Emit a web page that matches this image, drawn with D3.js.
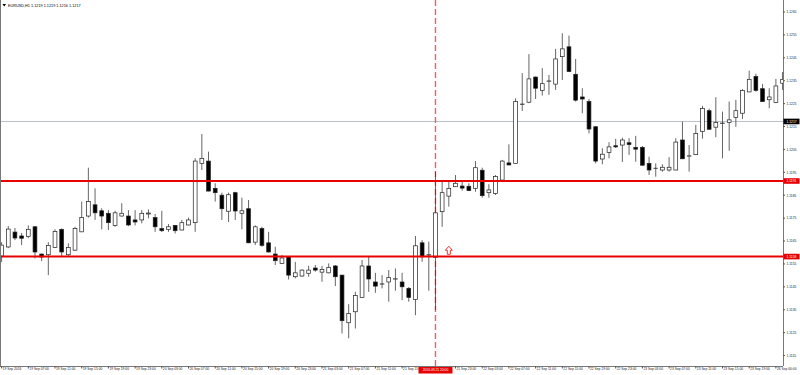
<!DOCTYPE html>
<html><head><meta charset="utf-8">
<script src="https://cdn.jsdelivr.net/npm/d3@7"></script>
<style>
body{margin:0;background:#fff}
svg{display:block}
text{font-family:"Liberation Sans",Arial,sans-serif}
</style>
</head><body>
<svg id="c" width="800" height="375"></svg>
<script>
// ---------------- data ----------------
const symbol = "EURUSD,H1";
const lastQuote = ["1.1219", "1.1219", "1.1216", "1.1217"];

const open = [1.11582,1.11622,1.11687,1.1167,1.11667,1.1171,1.11591,1.11588,1.1162,1.11699,
1.11588,1.11608,1.11688,1.11757,1.11806,1.1178,1.11769,1.11716,1.11757,1.11757,
1.1174,1.1174,1.11766,1.1175,1.11702,1.11699,1.11716,1.11696,1.11718,1.11728,
1.11987,1.11997,1.11878,1.11848,1.11778,1.11859,1.11769,1.11789,1.11643,1.11702,
1.1164,1.11591,1.1155,1.11579,1.11492,1.11495,1.11507,1.1153,1.11512,1.11509,
1.11539,1.11499,1.11291,1.11339,1.11402,1.11539,1.11469,1.1146,1.11469,1.11483,
1.11469,1.11441,1.11393,1.1164,1.11587,1.11577,1.11776,1.11844,1.11885,1.11888,
1.11887,1.11878,1.11957,1.11859,1.11856,1.11914,1.11989,1.11987,1.12245,1.12254,
1.12364,1.12306,1.12347,1.12333,1.12453,1.12496,1.12376,1.12277,1.12257,1.12147,
1.12006,1.12035,1.12064,1.12067,1.12077,1.12057,1.12057,1.11987,1.11965,1.11958,
1.11958,1.11958,1.12089,1.12019,1.12025,1.12127,1.12217,1.12145,1.12162,1.12165,
1.12188,1.12206,1.12299,1.12366,1.12313,1.12265,1.12253,1.12337];

const high = [1.11643,1.11713,1.11705,1.11683,1.11716,1.11713,1.11593,1.11643,1.11699,1.11703,
1.11638,1.1171,1.1182,1.11968,1.11878,1.11791,1.11783,1.1178,1.11813,1.11783,
1.11783,1.11783,1.11786,1.11766,1.1178,1.11722,1.11718,1.1174,1.1175,1.12009,
1.12115,1.12038,1.119,1.11859,1.11859,1.11863,1.11837,1.11827,1.11716,1.1171,
1.11688,1.11623,1.11587,1.1158,1.11557,1.11524,1.1154,1.11543,1.11539,1.1155,
1.11543,1.115,1.11372,1.11426,1.11565,1.11579,1.11509,1.11499,1.11521,1.11528,
1.11509,1.11447,1.1167,1.11652,1.11645,1.11951,1.11907,1.11911,1.11936,1.11911,
1.119,1.11997,1.11968,1.11896,1.11936,1.12002,1.1207,1.12271,1.12381,1.12464,
1.12366,1.12403,1.12373,1.12487,1.12555,1.12545,1.12443,1.12315,1.12268,1.12149,
1.12053,1.12079,1.12094,1.12099,1.12097,1.12107,1.12063,1.12016,1.11987,1.11983,
1.12014,1.12097,1.12169,1.12067,1.12155,1.12238,1.12226,1.12276,1.12213,1.12257,
1.12264,1.12311,1.12392,1.12378,1.12334,1.12315,1.12356,1.12386];

const low = [1.11556,1.11617,1.11652,1.1163,1.1166,1.11572,1.1156,1.11499,1.11619,1.11579,
1.11579,1.11606,1.11687,1.1175,1.1174,1.11699,1.11696,1.1171,1.11755,1.11713,
1.11716,1.11725,1.11747,1.11688,1.11687,1.11688,1.11681,1.11695,1.11716,1.11688,
1.11958,1.11865,1.1182,1.1174,1.11731,1.1174,1.11699,1.11639,1.1163,1.11623,
1.11598,1.11543,1.11549,1.1148,1.11485,1.11492,1.11492,1.11514,1.1147,1.11507,
1.11451,1.11244,1.11223,1.11266,1.11401,1.11426,1.11422,1.11441,1.11383,1.11431,
1.1139,1.11383,1.11324,1.11557,1.11431,1.11346,1.1171,1.11798,1.11884,1.11868,
1.11866,1.11863,1.11837,1.11837,1.11849,1.11913,1.11979,1.11986,1.12216,1.1225,
1.12268,1.12283,1.12286,1.12308,1.12351,1.12386,1.12257,1.12206,1.12118,1.11987,
1.11983,1.12009,1.12054,1.11993,1.12024,1.11994,1.11976,1.11936,1.11929,1.11951,
1.11951,1.11957,1.12006,1.11951,1.12024,1.12095,1.12133,1.12101,1.12009,1.12042,
1.12147,1.12181,1.12298,1.123,1.12255,1.12228,1.1225,1.12308];

const close = [1.1163,1.117,1.11661,1.1166,1.11699,1.116,1.11578,1.11629,1.1169,1.116,
1.1162,1.11702,1.1175,1.1182,1.11771,1.11757,1.11728,1.11771,1.11769,1.11718,
1.11731,1.11769,1.1177,1.1171,1.11693,1.1171,1.11693,1.11728,1.1174,1.11997,
1.12009,1.11866,1.11859,1.11789,1.1185,1.11779,1.1178,1.1164,1.1171,1.11629,
1.116,1.11562,1.11574,1.11499,1.11509,1.11521,1.11521,1.11521,1.11524,1.11533,
1.11492,1.113,1.11332,1.1141,1.11539,1.11482,1.11451,1.11461,1.11489,1.11483,
1.11448,1.11402,1.11627,1.11579,1.11588,1.11771,1.11859,1.11878,1.119,1.11879,
1.11868,1.11968,1.11846,1.11871,1.11929,1.11997,1.1198,1.12257,1.12246,1.12356,
1.12315,1.12335,1.12347,1.12443,1.12487,1.12388,1.12263,1.12268,1.12137,1.11997,
1.12027,1.12059,1.12059,1.12089,1.12069,1.12049,1.11979,1.11958,1.11966,1.1197,
1.1197,1.1208,1.12007,1.1202,1.12118,1.12226,1.12136,1.12165,1.12163,1.12177,
1.12217,1.12305,1.12354,1.12306,1.12257,1.12277,1.12325,1.12354];

// hourly bar times (trading hours only)
const times = d3.timeHour.range(new Date(2016, 8, 19, 3), new Date(2016, 8, 23, 23))
  .concat([new Date(2016, 8, 26, 0), new Date(2016, 8, 26, 1)]);

const priceTicks = [1.1115,1.1125,1.1135,1.1145,1.1155,1.1165,1.1175,1.1185,1.1195,1.1205,1.1215,1.1225,1.1235,1.1245,1.1255,1.1265];
const levels = [1.1191, 1.1158];
const bidPrice = 1.1217;
const markerTime = new Date(2016, 8, 21, 20);
const markerLabel = "2016.09.21 20:00";
const arrowTime = new Date(2016, 8, 21, 22);
const arrowPrice = 1.1159;

// ---------------- layout ----------------
const plotR = 783, plotB = 366;
const svg = d3.select("#c");

const idx = d3.range(times.length);
const x = d3.scaleBand().domain(idx).range([-1.74, -1.74 + 6.675 * times.length]).padding(0);
const cx = i => x(i) + x.bandwidth() / 2;
const y = d3.scaleLinear().domain([1.1115, 1.1265]).range([355.04, 11.54]);
const timeIndex = t => times.findIndex(d => +d === +t);

svg.append("defs").append("clipPath").attr("id", "plot")
  .append("rect").attr("x", 0).attr("y", 0).attr("width", plotR).attr("height", plotB);

const g = svg.append("g").attr("clip-path", "url(#plot)");

// bid line
g.append("line").attr("x1", 0).attr("x2", plotR)
  .attr("y1", y(bidPrice)).attr("y2", y(bidPrice))
  .attr("stroke", "#b8c0c8").attr("stroke-width", 1);

// vertical dashed marker (in the background, behind the candles)
const mi = timeIndex(markerTime);
const mx = cx(mi);
g.append("line").attr("x1", mx).attr("x2", mx).attr("y1", 0).attr("y2", plotB)
  .attr("stroke", "#f06060").attr("stroke-width", 1.4).attr("stroke-dasharray", "6,3");

// candles
const bars = idx.map(i => ({i, o: open[i], h: high[i], l: low[i], c: close[i]}));
g.selectAll("line.wick").data(bars).join("line").attr("class", "wick")
  .attr("x1", d => cx(d.i)).attr("x2", d => cx(d.i))
  .attr("y1", d => y(d.h)).attr("y2", d => y(d.l))
  .attr("stroke", "#333").attr("stroke-width", 0.75);

const bw = 3.8;
g.selectAll("rect.body").data(bars).join("rect").attr("class", "body")
  .attr("x", d => cx(d.i) - bw / 2)
  .attr("width", bw)
  .attr("y", d => Math.min(y(d.o), y(d.c)))
  .attr("height", d => Math.max(0.3, Math.abs(y(d.o) - y(d.c))))
  .attr("fill", d => d.c < d.o ? "#000" : "#fff")
  .attr("stroke", "#222").attr("stroke-width", 0.7);

// horizontal levels
g.selectAll("line.level").data(levels).join("line").attr("class", "level")
  .attr("x1", 0).attr("x2", plotR)
  .attr("y1", d => y(d)).attr("y2", d => y(d))
  .attr("stroke", "#e80000").attr("stroke-width", 2);

// arrow (hollow up arrow)
const ai = timeIndex(arrowTime);
const ax = cx(ai), ay = y(arrowPrice);
g.append("path")
  .attr("d", `M${ax},${ay-8} L${ax+3.5},${ay-4} L${ax+1.5},${ay-4} L${ax+1.5},${ay} L${ax-1.5},${ay} L${ax-1.5},${ay-4} L${ax-3.5},${ay-4} Z`)
  .attr("fill", "#fff").attr("stroke", "#e82020").attr("stroke-width", 0.9);

// frame
svg.append("line").attr("x1", 0.5).attr("x2", 0.5).attr("y1", 0).attr("y2", plotB)
  .attr("stroke", "#777").attr("stroke-width", 1);

// right axis
const fmt4 = d3.format(".4f");
const ra = svg.append("g").attr("transform", `translate(${plotR},0)`)
  .call(d3.axisRight(y).tickValues(priceTicks).tickFormat(fmt4).tickSize(2).tickPadding(1.5));
ra.select(".domain").attr("d", `M0.5,0V${plotB}`).attr("stroke", "#777");
ra.selectAll(".tick line").attr("stroke", "#555");
ra.selectAll(".tick text").attr("font-size", 3.3).attr("fill", "#222").attr("dy", "0.4em");

// price boxes on right axis
const boxes = [
  {p: bidPrice, bg: "#000"},
  {p: levels[0], bg: "#e80000"},
  {p: levels[1], bg: "#e80000"}
];
const bx = svg.append("g");
boxes.forEach(b => {
  bx.append("rect").attr("x", plotR + 0.5).attr("y", y(b.p) - 2.8).attr("width", 16).attr("height", 5.6)
    .attr("fill", b.bg);
  bx.append("text").attr("x", plotR + 3.5).attr("y", y(b.p)).attr("dy", "0.36em")
    .attr("font-size", 3.3).attr("fill", "#fff").text(fmt4(b.p));
});

// bottom axis (the tick under the marker box is hidden, as in the terminal)
const fmtT = d3.timeFormat("%d %b %H:%M");
const boxL = cx(mi) - 17, boxR = cx(mi) + 17;
const tickIdx = idx.filter(i => i % 4 === 0 && !(cx(i) > boxL - 2 && cx(i) < boxR));
const ba = svg.append("g").attr("transform", `translate(0,${plotB})`)
  .call(d3.axisBottom(x).tickValues(tickIdx)
    .tickFormat(i => i === 0 ? d3.timeFormat("%d %b %Y")(times[i]) : fmtT(times[i]))
    .tickSize(2.5).tickPadding(1));
ba.select(".domain").attr("d", `M0,0.5H${plotR}`).attr("stroke", "#777");
ba.selectAll(".tick line").attr("stroke", "#555");
ba.selectAll(".tick text").attr("font-size", 3.3).attr("fill", "#222")
  .attr("text-anchor", "start").attr("x", 1).attr("y", 2).attr("dy", "0.75em");

// marker time box on bottom axis
svg.append("rect").attr("x", boxL).attr("y", plotB + 1).attr("width", boxR - boxL).attr("height", 6.5)
  .attr("fill", "#e80000");
svg.append("text").attr("x", cx(mi)).attr("y", plotB + 4.3).attr("dy", "0.36em")
  .attr("text-anchor", "middle").attr("font-size", 3.3).attr("fill", "#fff").text(markerLabel);

// title
svg.append("path").attr("d", "M2.5,4 L6,4 L4.25,6.5 Z").attr("fill", "#000");
svg.append("text").attr("x", 8).attr("y", 5.5).attr("dy", "0.35em")
  .attr("font-size", 3.8).attr("fill", "#000")
  .text(symbol + "  " + lastQuote.join(" "));
</script>
</body></html>
